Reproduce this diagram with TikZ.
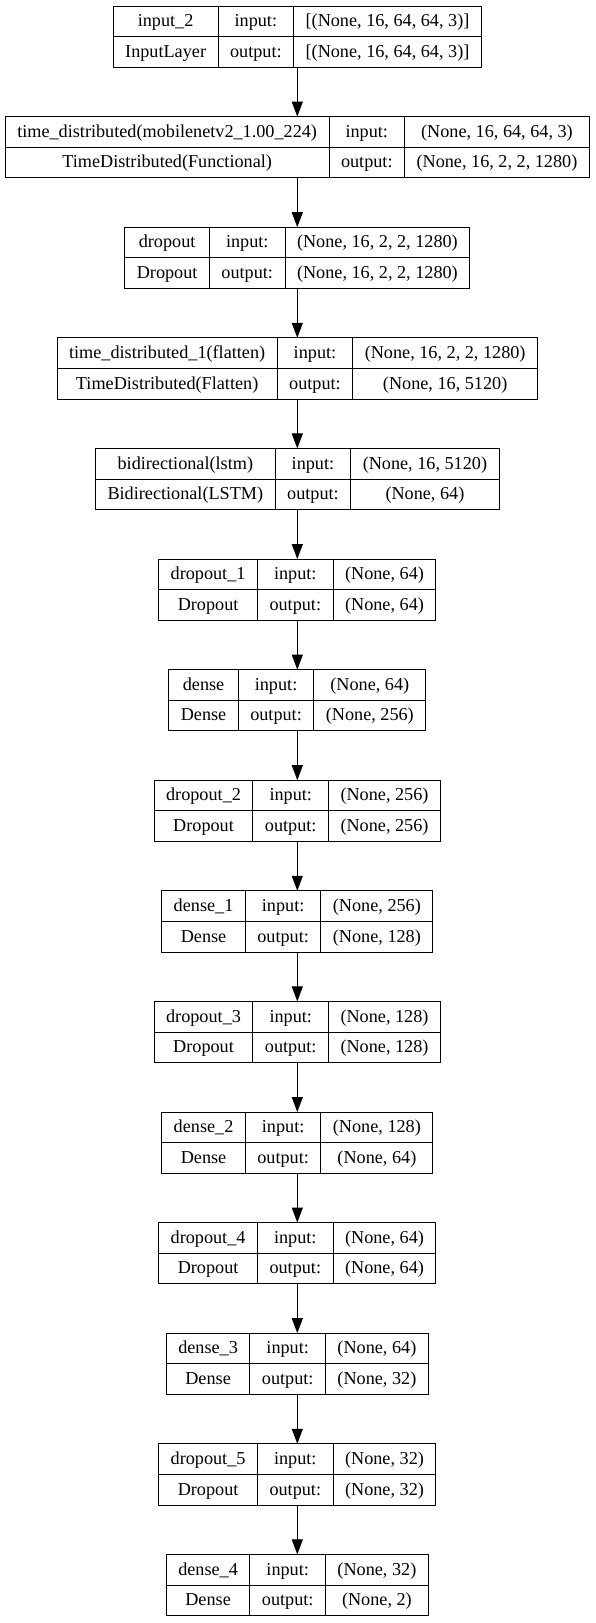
\documentclass[tikz,border=0pt]{standalone}
\usepackage{fontspec}
\setmainfont{Liberation Serif}
\usetikzlibrary{arrows.meta}
\newlength\colA \newlength\colB \newlength\colC \newlength\tmpw
\newcommand\lfont{\fontsize{18.2pt}{20pt}\selectfont}
\newcommand\padw{24pt}
\newcommand\cx{297.3}
\newcommand\rowh{30.6}
\newcommand\defbox[5]{%
  \settowidth\colA{\lfont #2}\settowidth\tmpw{\lfont #3}%
  \ifdim\tmpw>\colA \colA=\tmpw\fi
  \settowidth\colC{\lfont #4}\settowidth\tmpw{\lfont #5}%
  \ifdim\tmpw>\colC \colC=\tmpw\fi
  \expandafter\xdef\csname bx#1A\endcsname{\the\colA}%
  \expandafter\xdef\csname bx#1C\endcsname{\the\colC}%
  \expandafter\gdef\csname bx#1n\endcsname{#2}%
  \expandafter\gdef\csname bx#1c\endcsname{#3}%
  \expandafter\gdef\csname bx#1i\endcsname{#4}%
  \expandafter\gdef\csname bx#1o\endcsname{#5}%
}
\newcommand\kbox[2]{%
  \colA=\csname bx#1A\endcsname\relax \addtolength\colA{\padw}%
  \colB=\bxB\relax \addtolength\colB{\padw}%
  \colC=\csname bx#1C\endcsname\relax \addtolength\colC{\padw}%
  \pgfmathsetmacro\bw{\colA+\colB+\colC}%
  \pgfmathsetmacro\xl{\cx-\bw/2}%
  \pgfmathsetmacro\xa{\xl+\colA}%
  \pgfmathsetmacro\xb{\xa+\colB}%
  \pgfmathsetmacro\xr{\xl+\bw}%
  \pgfmathsetmacro\ym{#2+\rowh}%
  \pgfmathsetmacro\yb{#2+2*\rowh}%
  \pgfmathsetmacro\ta{#2+\rowh/2+5.3}%
  \pgfmathsetmacro\tb{#2+1.5*\rowh+5.3}%
  \pgfmathsetmacro\ca{\xl+\colA/2}%
  \pgfmathsetmacro\cb{\xa+\colB/2}%
  \pgfmathsetmacro\cc{\xb+\colC/2}%
  \node[boxshape, minimum width=\bw pt] (#1) at (\cx,#2) {};
  \draw[cellline] (\xl,\ym) -- (\xr,\ym) (\xa,#2) -- (\xa,\yb) (\xb,#2) -- (\xb,\yb);
  \node[celltext] (#1n) at (\ca,\ta) {\csname bx#1n\endcsname};
  \node[celltext] (#1c) at (\ca,\tb) {\csname bx#1c\endcsname};
  \node[celltext] (#1il) at (\cb,\ta) {input:};
  \node[celltext] (#1ol) at (\cb,\tb) {output:};
  \node[celltext] (#1i) at (\cc,\ta) {\csname bx#1i\endcsname};
  \node[celltext] (#1o) at (\cc,\tb) {\csname bx#1o\endcsname};
}
\begin{document}
\settowidth\colB{\lfont output:}\xdef\bxB{\the\colB}%
\defbox{l1}{input\_2}{InputLayer}{[(None, 16, 64, 64, 3)]}{[(None, 16, 64, 64, 3)]}%
\defbox{l2}{time\_distributed(mobilenetv2\_1.00\_224)}{TimeDistributed(Functional)}{(None, 16, 64, 64, 3)}{(None, 16, 2, 2, 1280)}%
\defbox{l3}{dropout}{Dropout}{(None, 16, 2, 2, 1280)}{(None, 16, 2, 2, 1280)}%
\defbox{l4}{time\_distributed\_1(flatten)}{TimeDistributed(Flatten)}{(None, 16, 2, 2, 1280)}{(None, 16, 5120)}%
\defbox{l5}{bidirectional(lstm)}{Bidirectional(LSTM)}{(None, 16, 5120)}{(None, 64)}%
\defbox{l6}{dropout\_1}{Dropout}{(None, 64)}{(None, 64)}%
\defbox{l7}{dense}{Dense}{(None, 64)}{(None, 256)}%
\defbox{l8}{dropout\_2}{Dropout}{(None, 256)}{(None, 256)}%
\defbox{l9}{dense\_1}{Dense}{(None, 256)}{(None, 128)}%
\defbox{l10}{dropout\_3}{Dropout}{(None, 128)}{(None, 128)}%
\defbox{l11}{dense\_2}{Dense}{(None, 128)}{(None, 64)}%
\defbox{l12}{dropout\_4}{Dropout}{(None, 64)}{(None, 64)}%
\defbox{l13}{dense\_3}{Dense}{(None, 64)}{(None, 32)}%
\defbox{l14}{dropout\_5}{Dropout}{(None, 32)}{(None, 32)}%
\defbox{l15}{dense\_4}{Dense}{(None, 32)}{(None, 2)}%
\begin{tikzpicture}[x=1pt,y=-1pt,
  boxshape/.style={draw=black, line width=1pt, rectangle, anchor=north,
    minimum height=61.2pt, inner sep=0pt, outer sep=0pt},
  cellline/.style={draw=black, line width=1pt},
  celltext/.style={anchor=base, inner sep=0pt, font=\lfont, text=black},
  conn/.style={draw=black, line width=1pt, -{Triangle[length=15pt,width=11pt]}}]
\useasboundingbox[fill=white] (0,0) rectangle (595,1623);
\kbox{l1}{6}
\kbox{l2}{116.6}
\kbox{l3}{227.2}
\kbox{l4}{337.8}
\kbox{l5}{448.4}
\kbox{l6}{559.0}
\kbox{l7}{669.6}
\kbox{l8}{780.2}
\kbox{l9}{890.8}
\kbox{l10}{1001.4}
\kbox{l11}{1112.0}
\kbox{l12}{1222.6}
\kbox{l13}{1333.2}
\kbox{l14}{1443.8}
\kbox{l15}{1554.4}
\draw[conn] (l1.south) -- (l2.north);
\draw[conn] (l2.south) -- (l3.north);
\draw[conn] (l3.south) -- (l4.north);
\draw[conn] (l4.south) -- (l5.north);
\draw[conn] (l5.south) -- (l6.north);
\draw[conn] (l6.south) -- (l7.north);
\draw[conn] (l7.south) -- (l8.north);
\draw[conn] (l8.south) -- (l9.north);
\draw[conn] (l9.south) -- (l10.north);
\draw[conn] (l10.south) -- (l11.north);
\draw[conn] (l11.south) -- (l12.north);
\draw[conn] (l12.south) -- (l13.north);
\draw[conn] (l13.south) -- (l14.north);
\draw[conn] (l14.south) -- (l15.north);
\end{tikzpicture}
\end{document}
